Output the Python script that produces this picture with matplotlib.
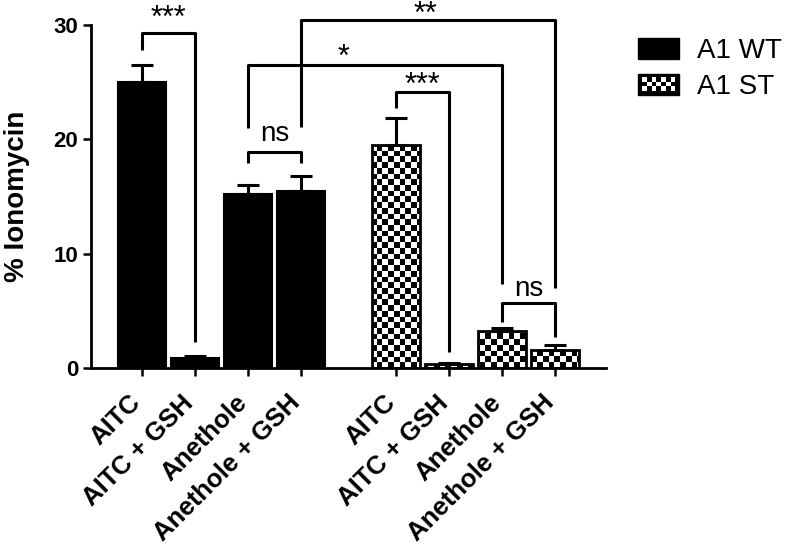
import numpy as np
import matplotlib
matplotlib.use('Agg')
import matplotlib.pyplot as plt
from matplotlib.patches import Rectangle, Patch
from matplotlib.legend_handler import HandlerBase

plt.rcParams['font.family'] = ['Liberation Sans', 'DejaVu Sans']

# Data
treatments = ['AITC', 'AITC + GSH', 'Anethole', 'Anethole + GSH']
wt_mean = [25.0, 0.9, 15.2, 15.5]
wt_err = [1.5, 0.1, 0.8, 1.3]
st_mean = [19.5, 0.3, 3.2, 1.6]
st_err = [2.4, 0.1, 0.3, 0.4]

# significance brackets: left bar, right bar, top, left leg end, right leg end, label
br_left = [0, 2, 2, 3, 4, 6]
br_right = [1, 3, 6, 7, 5, 7]
br_top = [29.3, 18.9, 26.5, 30.4, 24.1, 5.7]
br_left_end = [27.8, 17.9, 21.0, 21.1, 22.7, 4.0]
br_right_end = [2.3, 17.9, 7.3, 7.0, 1.4, 2.7]
br_label = ['***', 'ns', '*', '**', '***', 'ns']

# bar positions (second group shifted to leave a gap)
x_wt = np.arange(4)
x_st = np.arange(4) + 4.8
x_all = np.concatenate([x_wt, x_st])
width = 0.9

fig = plt.figure(figsize=(7.88, 5.45), dpi=100)
ax = fig.add_axes([0.115, 0.325, 0.654, 0.629])

# WT bars - solid black
ax.bar(x_wt, wt_mean, width, color='black', edgecolor='black', linewidth=1.5, zorder=2)
ax.errorbar(x_wt, wt_mean, yerr=[np.zeros(4), wt_err], fmt='none', ecolor='black',
            elinewidth=2.2, capsize=8, capthick=2.2, zorder=3)

# ST bars - white with checkerboard texture clipped to each bar
st_bars = ax.bar(x_st, st_mean, width, color='white', edgecolor='none', zorder=2)
nx, ny = 90, 60
checker = (np.indices((ny, nx)).sum(axis=0) % 2).astype(float)
for b in st_bars:
    im = ax.imshow(checker, cmap='gray_r', extent=[0, 1, 0, 1], transform=ax.transAxes,
                   interpolation='nearest', aspect='auto', zorder=2.2)
    im.set_clip_path(b)
ax.bar(x_st, st_mean, width, fill=False, edgecolor='black', linewidth=2, zorder=2.5)
ax.errorbar(x_st, st_mean, yerr=[np.zeros(4), st_err], fmt='none', ecolor='black',
            elinewidth=2.2, capsize=8, capthick=2.2, zorder=3)

# brackets
for i in range(len(br_label)):
    xl = x_all[br_left[i]]
    xr = x_all[br_right[i]]
    ax.plot([xl, xl, xr, xr], [br_left_end[i], br_top[i], br_top[i], br_right_end[i]],
            color='black', lw=2.2, clip_on=False, zorder=4, solid_capstyle='butt')

lbl_x = [0.5, 2.5, 3.8, 5.36, 5.3, 7.3]
lbl_y = [30.5, 20.5, 27.1, 30.9, 24.7, 6.9]
lbl_size = [22, 20, 22, 22, 22, 20]
for i in range(len(br_label)):
    ax.text(lbl_x[i], lbl_y[i], br_label[i], ha='center', va='center',
            fontsize=lbl_size[i], clip_on=False)

# axes styling
ax.set_xlim(-0.97, 8.76)
ax.set_ylim(0, 30)
ax.spines['top'].set_visible(False)
ax.spines['right'].set_visible(False)
ax.spines['left'].set_linewidth(2)
ax.spines['bottom'].set_linewidth(2)
ax.set_yticks([0, 10, 20, 30])
ax.set_xticks(x_all)
ax.set_xticklabels(treatments + treatments, rotation=45, ha='right', va='baseline',
                   rotation_mode='anchor', fontsize=18.5, fontweight='bold')
ax.tick_params(axis='y', labelsize=16, length=6, width=1.8, pad=3)
ax.tick_params(axis='x', length=6, width=1.8, pad=20)
for t in ax.get_yticklabels():
    t.set_fontweight('bold')
ax.set_ylabel('% Ionomycin', fontsize=20, fontweight='bold')
ax.yaxis.set_label_coords(-0.118, 0.5)


class CheckerHandler(HandlerBase):
    def create_artists(self, legend, orig_handle, xdescent, ydescent, width, height,
                       fontsize, trans):
        x0, y0 = -xdescent, -ydescent
        arts = [Rectangle((x0, y0), width, height, facecolor='black', edgecolor='black',
                          transform=trans)]
        ncol, nrow = 7, 3
        m = height * 0.18
        sw = (width - 2 * m) / ncol
        sh = (height - 2 * m) / nrow
        for r in range(nrow):
            for c in range(ncol):
                if (r + c) % 2 == 0:
                    arts.append(Rectangle((x0 + m + c * sw, y0 + m + r * sh), sw, sh,
                                          facecolor='white', edgecolor='none',
                                          transform=trans))
        return arts


wt_handle = Patch(facecolor='black', edgecolor='black')
st_handle = Patch(facecolor='white', edgecolor='black')
fig.legend([wt_handle, st_handle], ['A1 WT', 'A1 ST'], loc='upper left',
           bbox_to_anchor=(0.81, 0.93), frameon=False, fontsize=20,
           handlelength=1.47, handleheight=0.79, handletextpad=0.65,
           labelspacing=0.33, borderpad=0, borderaxespad=0,
           handler_map={st_handle: CheckerHandler()})

fig.savefig('out.png', dpi=100)
